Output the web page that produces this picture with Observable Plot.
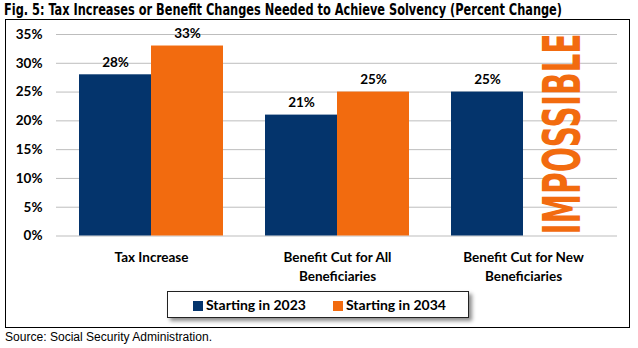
<!DOCTYPE html>
<html>
<head>
<meta charset="utf-8">
<script src="https://cdn.jsdelivr.net/npm/d3@7"></script>
<script src="https://cdn.jsdelivr.net/npm/@observablehq/plot@0.6"></script>
<style>
  html, body { margin: 0; padding: 0; background: #fff; }
  #page { position: relative; width: 638px; height: 348px; overflow: hidden; background: #fff; }
  #title { position: absolute; left: 4px; top: 1px; font-family: "Liberation Sans Narrow", "DejaVu Sans Condensed", "Liberation Sans", sans-serif; font-weight: bold; font-size: 15.5px; line-height: 18px; white-space: nowrap; transform-origin: 0 0; color: #000; }
  #box { position: absolute; left: 5px; top: 19px; width: 623px; height: 307px; border: 1px solid #000; }
  #chart { position: absolute; left: 0; top: 0; }
  #chart svg text { font-weight: 700; }
  #annot { position: absolute; font-family: "DejaVu Sans Condensed", "DejaVu Sans", sans-serif; font-stretch: condensed; font-weight: bold; font-size: 52px; line-height: 52px; white-space: nowrap; transform-origin: 50% 50%; }
  #legend { position: absolute; left: 167px; top: 291px; width: 300px; height: 25px; border: 1px solid #222; background: #fff; box-shadow: 3px 3px 4px rgba(0,0,0,0.45); font-family: Lato, "Open Sans", sans-serif; font-weight: 700; font-size: 14px; }
  .item { position: absolute; top: 0; height: 25px; line-height: 25px; white-space: nowrap; }
  .sw { display: inline-block; width: 10px; height: 10px; margin-right: 3px; vertical-align: -1px; }
  #source { position: absolute; left: 5px; top: 329px; font-family: "Liberation Sans", Arial, sans-serif; font-size: 12px; line-height: 16px; white-space: nowrap; transform-origin: 0 0; }
</style>
</head>
<body>
<div id="page">
  <div id="title">Fig. 5: Tax Increases or Benefit Changes Needed to Achieve Solvency (Percent Change)</div>
  <div id="box"></div>
  <div id="chart"></div>
  <div id="annot"></div>
  <div id="legend"></div>
  <div id="source">Source: Social Security Administration.</div>
</div>
<script>
const categories = ["Tax Increase", "Benefit Cut for All Beneficiaries", "Benefit Cut for New Beneficiaries"];
const tickLabels = ["Tax Increase", "Benefit Cut for All\nBeneficiaries", "Benefit Cut for New\nBeneficiaries"];
const series = ["Starting in 2023", "Starting in 2034"];
const values2023 = [28, 21, 25];
const values2034 = [33, 25, null];
const yTicks = [0, 5, 10, 15, 20, 25, 30, 35];
const colors = ["#04346c", "#f26b0f"];
const annotation = {category: "Benefit Cut for New Beneficiaries", text: "IMPOSSIBLE"};

const rows2023 = categories.map((c, i) => ({category: c, value: values2023[i]}));
const rows2034 = categories.map((c, i) => ({category: c, value: values2034[i]})).filter(d => d.value != null);
const labelRows = categories.map((c, i) => ({category: c, label: tickLabels[i]}));

const W = 638, H = 290;
const font = "Lato, 'Open Sans', sans-serif";

const plot = Plot.plot({
  width: W,
  height: H,
  marginLeft: 57,
  marginRight: 22,
  marginTop: 34,
  marginBottom: 54.5,
  style: {fontFamily: font, fontSize: "13.5px", fontWeight: "bold", background: "transparent", color: "#000", overflow: "visible"},
  x: {domain: categories, padding: 0, axis: null},
  y: {domain: [0, 35], ticks: yTicks, tickFormat: d => d + "%", tickSize: 0, tickPadding: 15, label: null},
  marks: [
    Plot.ruleY(yTicks, {stroke: "#bdbdbd", strokeWidth: 1, insetLeft: -1, insetRight: -1}),
    Plot.barY(rows2023, {x: "category", y: "value", fill: colors[0], insetLeft: 21, insetRight: 93}),
    Plot.barY(rows2034, {x: "category", y: "value", fill: colors[1], insetLeft: 93, insetRight: 21}),
    Plot.text(rows2023, {x: "category", y: "value", text: d => d.value + "%", dx: -36, dy: -8, lineAnchor: "bottom", fill: "#000", fontWeight: "bold"}),
    Plot.text(rows2034, {x: "category", y: "value", text: d => d.value + "%", dx: 36, dy: -8, lineAnchor: "bottom", fill: "#000", fontWeight: "bold"}),
    Plot.text(labelRows, {x: "category", y: () => 0, text: "label", dy: 12, lineAnchor: "top", lineHeight: 1.45, fill: "#000", fontWeight: "bold"})
  ]
});
document.getElementById("chart").appendChild(plot);

// rotated "IMPOSSIBLE" annotation, positioned with the plot's own scales
(function () {
  const xs = plot.scale("x"), ys = plot.scale("y");
  const el = document.getElementById("annot");
  el.textContent = annotation.text;
  el.style.color = colors[1];
  const natW = el.offsetWidth, natH = el.offsetHeight;
  const yBottom = ys.apply(0) - 1.5;
  const yTop = ys.apply(35) - 1;
  const len = yBottom - yTop;
  const cx = xs.apply(annotation.category) + xs.bandwidth * 0.5 + 39;
  const cy = (yTop + yBottom) / 2;
  el.style.left = (cx - natW / 2) + "px";
  el.style.top = (cy - natH / 2) + "px";
  el.style.transform = `rotate(-90deg) scaleX(${len / natW})`;
})();

// legend
(function () {
  const legend = document.getElementById("legend");
  const lx = [25, 165];
  series.forEach((s, i) => {
    const it = document.createElement("div");
    it.className = "item";
    it.style.left = lx[i] + "px";
    it.innerHTML = `<span class="sw" style="background:${colors[i]}"></span>${s}`;
    legend.appendChild(it);
  });
})();

// fit title and source widths
function fitWidth(id, w) {
  const el = document.getElementById(id);
  const r = el.getBoundingClientRect().width;
  el.style.transform = `scaleX(${w / r})`;
}
fitWidth("title", 558);
fitWidth("source", 207);
</script>
</body>
</html>
